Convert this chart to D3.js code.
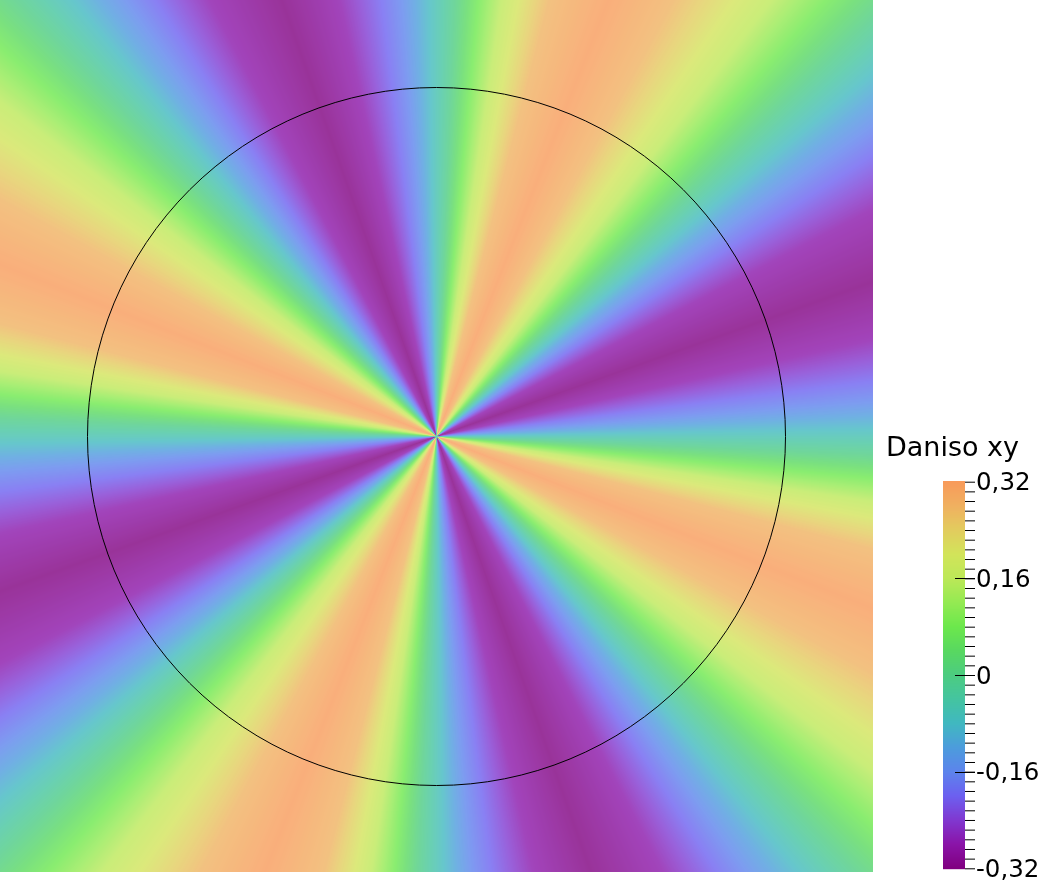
<!DOCTYPE html>
<html>
<head>
<meta charset="utf-8">
<script src="https://cdn.jsdelivr.net/npm/d3@7"></script>
<style>
  body { margin: 0; background: #fff; }
  #wrap { position: relative; width: 1056px; height: 883px; }
  #wrap canvas, #wrap svg { position: absolute; left: 0; top: 0; }
  text { font-family: "DejaVu Sans", sans-serif; fill: #000; }
</style>
</head>
<body>
<div id="wrap"></div>
<script>
'use strict';

// legend colour map (value -> colour)
const barValues = [-0.32, -0.28, -0.24, -0.20, -0.16, -0.12, -0.08, -0.04, 0,
                   0.04, 0.08, 0.12, 0.16, 0.20, 0.24, 0.28, 0.32];
const barColors = ["#800080", "#8a14a8", "#8038d0", "#6c60f0", "#5c84ec", "#4c9cdc", "#40b8c0", "#44c4a0", "#4ccc80",
                   "#58d860", "#6ce84c", "#94ea52", "#bce858", "#d2e45a", "#e2cc5e", "#f0b060", "#f89a5a"];

// colour bar ticks
const tickValues = [0.32, 0.16, 0, -0.16, -0.32];
const tickLabels = ["0,32", "0,16", "0", "-0,16", "-0,32"];
const minorStep = 0.016;

// value of Daniso xy along one 90 degree period of the angular pattern,
// angles in screen degrees (clockwise from +x) counted from the first zero
const firstZero = 2.5;
const periodAngles = [0, 6, 12, 19, 26, 35, 43.5, 52, 60, 68, 75, 83, 90];
const periodValues = [0, 0.16, 0.277, 0.32, 0.277, 0.16, 0, -0.16, -0.277, -0.32, -0.277, -0.16, 0];

const fieldW = 873, fieldH = 872;
const cx = 436.5, cy = 436.5, circleR = 349;

(function() {
  let wrap = d3.select('#wrap');

  let colorScale = d3.scaleLinear()
    .domain(barValues)
    .range(barColors)
    .interpolate(d3.interpolateRgb)
    .clamp(true);

  let profile = d3.scaleLinear()
    .domain(periodAngles)
    .range(periodValues);

  // the rendered surface is lit, so its colours come out lighter than the bar
  let lit = (v) => d3.rgb(d3.interpolateRgb(colorScale(v), '#ffffff')(0.2));

  // colour per angle bin
  let bins = 7200;
  let lut = new Uint8ClampedArray(bins * 3);
  for (let b = 0; b < bins; b++) {
    let ang = (b + 0.5) * 360 / bins;
    let ph = (((ang - firstZero) % 90) + 90) % 90;
    let c = lit(profile(ph));
    lut[b * 3] = c.r; lut[b * 3 + 1] = c.g; lut[b * 3 + 2] = c.b;
  }

  // field
  let canvas = wrap.append('canvas')
    .attr('width', fieldW)
    .attr('height', fieldH);
  let ctx = canvas.node().getContext('2d');
  let img = ctx.createImageData(fieldW, fieldH);
  for (let j = 0; j < fieldH; j++) {
    for (let i = 0; i < fieldW; i++) {
      let dx = i + 0.5 - cx, dy = j + 0.5 - cy;
      let ang = Math.atan2(dy, dx) * 180 / Math.PI;
      if (ang < 0) ang += 360;
      let b = Math.min(bins - 1, Math.floor(ang / 360 * bins));
      let k = (j * fieldW + i) * 4;
      img.data[k] = lut[b * 3];
      img.data[k + 1] = lut[b * 3 + 1];
      img.data[k + 2] = lut[b * 3 + 2];
      img.data[k + 3] = 255;
    }
  }
  ctx.putImageData(img, 0, 0);

  let svg = wrap.append('svg')
    .attr('width', 1056)
    .attr('height', 883);

  svg.append('circle')
    .attr('cx', cx)
    .attr('cy', cy)
    .attr('r', circleR)
    .attr('fill', 'none')
    .attr('stroke', '#000')
    .attr('stroke-width', 1);

  // colour bar
  let barX = 943, barW = 22;
  let yScale = d3.scaleLinear()
    .domain([0.32, -0.32])
    .range([481.7, 868.3]);

  let rows = d3.range(Math.floor(yScale(0.32)), Math.ceil(yScale(-0.32)));
  svg.append('g').selectAll('rect')
    .data(rows)
    .enter()
    .append('rect')
      .attr('x', barX)
      .attr('y', (d) => d)
      .attr('width', barW)
      .attr('height', 1.2)
      .attr('fill', (d) => colorScale(yScale.invert(d + 0.5)));

  // minor ticks on the right of the bar
  let minorTicks = d3.range(-20, 21).map((i) => i * minorStep);
  let axis = d3.axisRight(yScale)
    .tickValues(minorTicks)
    .tickSize(10)
    .tickFormat('');
  let gAxis = svg.append('g')
    .attr('transform', 'translate(' + (barX + barW) + ',0)')
    .call(axis);
  gAxis.select('.domain').remove();
  gAxis.selectAll('line').attr('stroke', '#000').attr('stroke-width', 1);

  // major ticks run into the bar
  svg.append('g').selectAll('line')
    .data(tickValues.filter((v) => Math.abs(v) < 0.3))
    .enter()
    .append('line')
      .attr('x1', barX + barW - 10)
      .attr('x2', barX + barW + 10)
      .attr('y1', (d) => Math.round(yScale(d)) + 0.5)
      .attr('y2', (d) => Math.round(yScale(d)) + 0.5)
      .attr('stroke', '#000');

  svg.append('g').selectAll('text')
    .data(tickValues)
    .enter()
    .append('text')
      .attr('x', 976)
      .attr('y', (d) => yScale(d) + 8.5)
      .style('font-size', '24.5px')
      .text((d, i) => tickLabels[i]);

  svg.append('text')
    .attr('x', 886)
    .attr('y', 456)
    .style('font-size', '27px')
    .text('Daniso xy');
})();
</script>
</body>
</html>
